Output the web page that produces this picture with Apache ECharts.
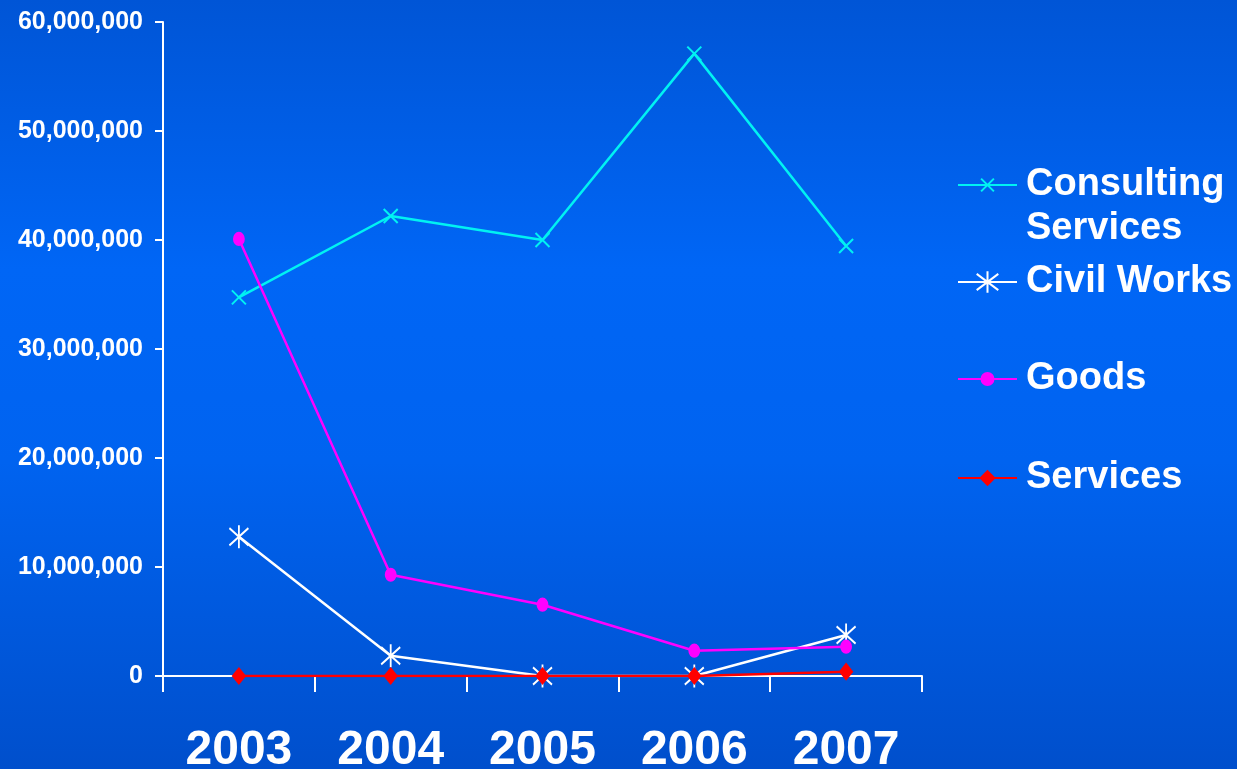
<!DOCTYPE html>
<html>
<head>
<meta charset="utf-8">
<title>Contract amounts by procurement category, 2003–2007</title>
<script src="https://cdn.jsdelivr.net/npm/echarts@6/dist/echarts.min.js"></script>
<style>
  html, body { margin: 0; padding: 0; width: 100%; height: 100%; overflow: hidden; }
  #chart { width: 1237px; height: 769px; }
</style>
</head>
<body>
<div id="chart"></div>
<script>
// Years on the category axis
const years = ['2003', '2004', '2005', '2006', '2007'];

// Amounts per procurement category
const consultingServices = [34740000, 42200000, 40000000, 57100000, 39450000];
const civilWorks = [12780000, 1860000, 0, 0, 3760000];
const goods = [40100000, 9290000, 6540000, 2320000, 2690000];
const services = [0, 0, 0, 0, 400000];

// Value axis ticks
const yTicks = [0, 10000000, 20000000, 30000000, 40000000, 50000000, 60000000];

const FONT = "'Liberation Sans', Arial, Helvetica, sans-serif";

// Marker shapes
const CROSS = 'path://M0,0L10,10M10,0L0,10';
const ASTERISK = 'path://M5,0L5,12M0,1.5L10,10.5M10,1.5L0,10.5';

function lineSeries(name, data, color, symbol, symbolSize) {
  return {
    name: name,
    type: 'line',
    data: data,
    symbol: symbol,
    symbolSize: symbolSize,
    showAllSymbol: true,
    lineStyle: { color: color, width: 2.5 },
    itemStyle: { color: color, borderColor: color, borderWidth: 2 },
    emphasis: { disabled: true }
  };
}

// One legend block per series; the first label wraps onto a second line
// that hangs below the key, so a blank leading line keeps the first line
// level with the key.
function legendFor(name, label, top, iconHeight) {
  return {
    data: [name],
    orient: 'vertical',
    left: 957,
    top: top,
    padding: 0,
    itemWidth: 59,
    itemHeight: iconHeight,
    selectedMode: false,
    formatter: function () { return label; },
    itemStyle: { borderWidth: 2 },
    textStyle: {
      color: '#ffffff',
      fontFamily: FONT,
      fontWeight: 'bold',
      fontSize: 38,
      lineHeight: 44,
      padding: [0, 0, 0, 4]
    }
  };
}

const chart = echarts.init(document.getElementById('chart'), null, { renderer: 'canvas' });

chart.setOption({
  animation: false,
  backgroundColor: {
    type: 'linear', x: 0, y: 0, x2: 0, y2: 1,
    colorStops: [
      { offset: 0, color: '#0055d6' },
      { offset: 0.35, color: '#0066f6' },
      { offset: 0.6, color: '#0063f0' },
      { offset: 1, color: '#004fcc' }
    ]
  },
  grid: { left: 163, right: 315, top: 22, bottom: 93, containLabel: false, outerBoundsMode: 'none' },
  xAxis: {
    type: 'category',
    data: years,
    boundaryGap: true,
    axisLine: { lineStyle: { color: '#ffffff', width: 2 } },
    axisTick: { show: true, length: 16, inside: false, lineStyle: { color: '#ffffff', width: 2 } },
    axisLabel: {
      color: '#ffffff',
      fontFamily: FONT,
      fontWeight: 'bold',
      fontSize: 48,
      margin: 51
    },
    splitLine: { show: false }
  },
  yAxis: {
    type: 'value',
    min: yTicks[0],
    max: yTicks[yTicks.length - 1],
    interval: yTicks[1] - yTicks[0],
    axisLine: { show: true, lineStyle: { color: '#ffffff', width: 2 } },
    axisTick: { show: true, length: 8, inside: false, lineStyle: { color: '#ffffff', width: 2 } },
    axisLabel: {
      color: '#ffffff',
      fontFamily: FONT,
      fontWeight: 'bold',
      fontSize: 25,
      margin: 20,
      formatter: function (v) { return v.toLocaleString('en-US'); }
    },
    splitLine: { show: false }
  },
  legend: [
    legendFor('Consulting Services', '\nConsulting\nServices', 119, 16),
    legendFor('Civil Works', 'Civil Works', 260, 27),
    legendFor('Goods', 'Goods', 357, 15),
    legendFor('Services', 'Services', 456, 17)
  ],
  series: [
    lineSeries('Consulting Services', consultingServices, '#00f2f2', CROSS, 14),
    lineSeries('Civil Works', civilWorks, '#ffffff', ASTERISK, [19, 23]),
    lineSeries('Goods', goods, '#ff00ff', 'circle', [10, 12]),
    lineSeries('Services', services, '#ff0000', 'diamond', [12, 15])
  ]
});
</script>
</body>
</html>
